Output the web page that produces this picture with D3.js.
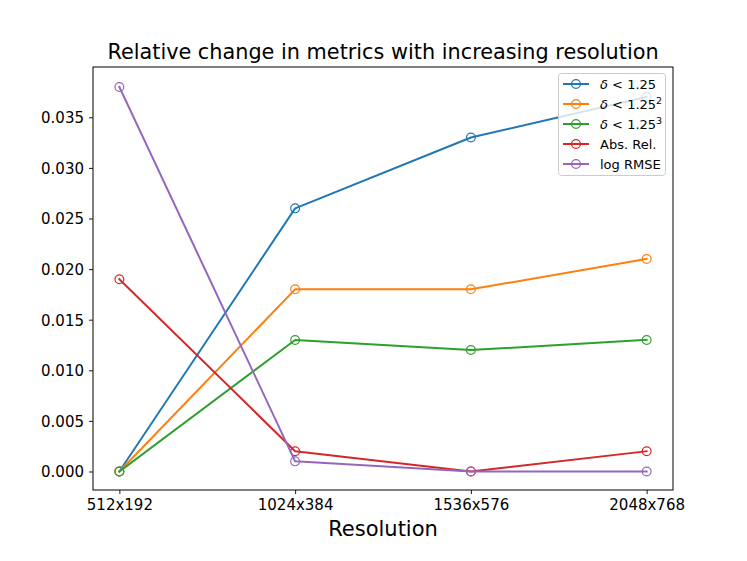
<!DOCTYPE html>
<html><head><meta charset="utf-8">
<script src="https://d3js.org/d3.v7.min.js"></script>
<style>body{margin:0;background:#fff}svg{display:block;font-family:"DejaVu Sans",sans-serif}</style>
</head><body>
<svg id="c" width="747" height="561"></svg>
<script>
const categories = ["512x192","1024x384","1536x576","2048x768"];
const seriesNames = ["δ<1.25","δ<1.25²","δ<1.25³","Abs. Rel.","log RMSE"];
const d1 = [0, 0.026, 0.033, 0.037];
const d2 = [0, 0.018, 0.018, 0.021];
const d3v = [0, 0.013, 0.012, 0.013];
const absRel = [0.019, 0.002, 0, 0.002];
const logRmse = [0.038, 0.001, 0, 0];
const yTicks = [0, 0.005, 0.010, 0.015, 0.020, 0.025, 0.030, 0.035];
const colors = ["#1f77b4","#ff7f0e","#2ca02c","#d62728","#9467bd"];

const series = [d1,d2,d3v,absRel,logRmse].map((v,i)=>({name:seriesNames[i], values:v, color:colors[i]}));

const svg = d3.select("#c");
const L=93, R=673, T=67, B=490;
const x = d3.scaleLinear().domain([-0.15, 3.15]).range([L,R]);
const y = d3.scaleLinear().domain([-0.00183, 0.03997]).range([B,T]);

// lines
const line = d3.line().x((d,i)=>x(i)).y(d=>y(d));
series.forEach(s=>{
  svg.append("path").attr("d", line(s.values)).attr("fill","none")
    .attr("stroke", s.color).attr("stroke-width",2).attr("stroke-linejoin","round").attr("stroke-linecap","square");
  svg.selectAll(null).data(s.values).enter().append("circle")
    .attr("cx",(d,i)=>x(i)).attr("cy",d=>y(d)).attr("r",4.4)
    .attr("fill","none").attr("stroke",s.color).attr("stroke-width",1.2);
});

// axes
const xAxis = d3.axisBottom(x).tickValues([0,1,2,3]).tickFormat(i=>categories[i]).tickSize(4).tickPadding(5);
const yAxis = d3.axisLeft(y).tickValues(yTicks).tickFormat(d3.format(".3f")).tickSize(4).tickPadding(5);
const gx = svg.append("g").attr("transform",`translate(0,${B})`).call(xAxis);
const gy = svg.append("g").attr("transform",`translate(${L},0)`).call(yAxis);
[gx,gy].forEach(g=>{
  g.select(".domain").remove();
  g.selectAll("text").attr("font-size","15px").attr("font-family","DejaVu Sans").attr("fill","#000");
  g.selectAll("line").attr("stroke","#000").attr("stroke-width",0.9);
});
gy.selectAll("text").attr("dy","0.36em");
// frame
svg.append("rect").attr("x",L).attr("y",T).attr("width",R-L).attr("height",B-T)
  .attr("fill","none").attr("stroke","#000").attr("stroke-width",1);

// title & label
svg.append("text").attr("x",(L+R)/2).attr("y",59).attr("text-anchor","middle")
  .attr("font-size","20.8px").text("Relative change in metrics with increasing resolution");
svg.append("text").attr("x",(L+R)/2).attr("y",536).attr("text-anchor","middle")
  .attr("font-size","21px").text("Resolution");

// legend
const lg = svg.append("g");
lg.append("rect").attr("x",558.5).attr("y",73.5).attr("width",107).attr("height",102).attr("rx",3)
  .attr("fill","#fff").attr("fill-opacity",0.8).attr("stroke","#ccc").attr("stroke-width",1);
series.forEach((s,i)=>{
  const yy = 84 + i*20;
  lg.append("line").attr("x1",563).attr("x2",589).attr("y1",yy).attr("y2",yy)
    .attr("stroke",s.color).attr("stroke-width",2);
  lg.append("circle").attr("cx",576).attr("cy",yy).attr("r",4.4).attr("fill","none")
    .attr("stroke",s.color).attr("stroke-width",1.2);
  const t = lg.append("text").attr("x",600).attr("y",yy+4.5).attr("font-size","13px");
  if (i<3) {
    t.append("tspan").attr("font-style","italic").text("δ");
    t.append("tspan").text(" < 1.25");
    if (i>0) t.append("tspan").attr("font-size","9.5px").attr("dy","-5").text(i===1?"2":"3");
  } else {
    t.text(s.name);
  }
});
</script>
</body></html>
